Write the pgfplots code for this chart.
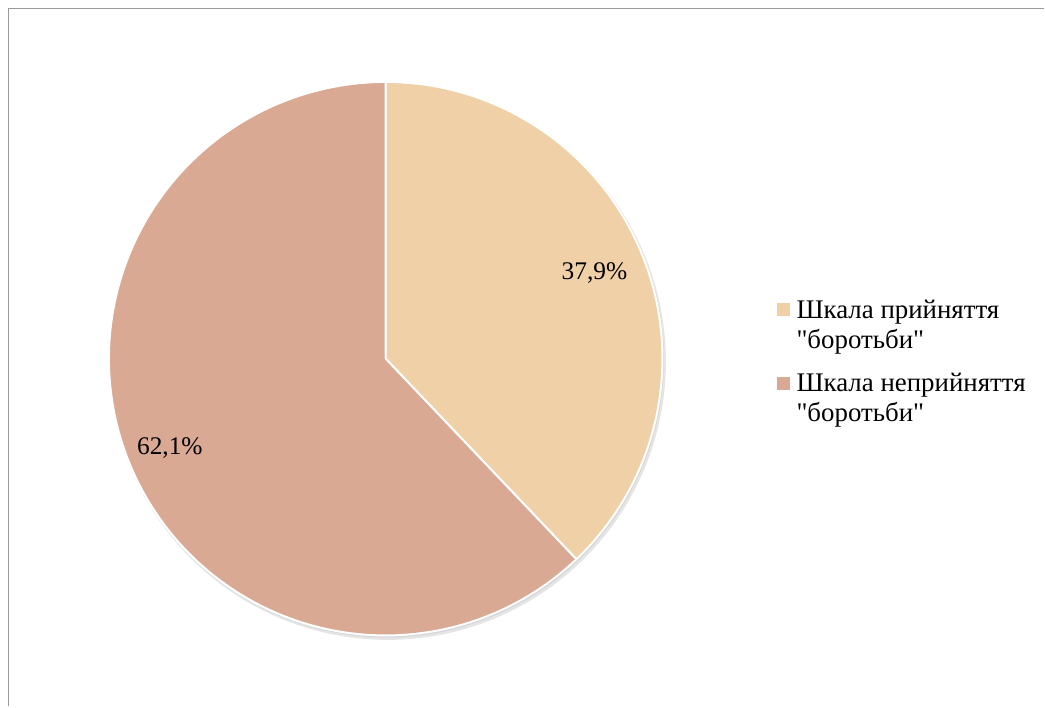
\documentclass[border=0pt]{standalone}
\usepackage{fontspec}
\setmainfont{Liberation Serif}[Ligatures=TeXOff]
\usepackage{pgfplots}
\pgfplotsset{compat=1.18}
\definecolor{sliceA}{HTML}{F0D0A6}
\definecolor{sliceB}{HTML}{D9A993}
\definecolor{framecol}{HTML}{9A9A9A}
\newcommand{\legtwo}[2]{\begin{tabular}[t]{@{}l@{}}#1\\#2\end{tabular}}
\begin{document}
\begin{tikzpicture}
\def\cx{386}\def\cy{348}\def\r{277}
\def\va{37.9}\def\vb{62.1}
\pgfmathsetmacro{\aend}{90-3.6*\va}
\pgfmathsetmacro{\bend}{\aend-3.6*\vb}
\begin{axis}[x=1bp,y=1bp,xmin=0,xmax=1045,ymin=0,ymax=707,scale only axis,
  axis lines=none, clip=false,
  legend style={at={(axis cs:777,409.5)}, anchor=north west, draw=none, fill=none,
    font=\fontsize{27}{30}\selectfont, cells={anchor=base west},
    nodes={inner sep=0pt}, column sep=7bp, row sep=51bp, inner sep=0pt},
  legend image code/.code={\fill[#1,draw=none] (0bp,2bp) rectangle (13bp,15bp);},
]
\path (axis cs:0,0) rectangle (axis cs:1045,707);
\draw[framecol, line width=1.8bp] (axis cs:8.5,0) -- (axis cs:8.5,698.5) -- (axis cs:1045,698.5);
% soft shadow
\addplot[draw=none, fill=black, fill opacity=0.10, domain=0:360, samples=180, forget plot]
  ({\cx+2+(\r+1.5)*cos(x)},{\cy-3+(\r+1.5)*sin(x)});
\addplot[draw=none, fill=black, fill opacity=0.08, domain=0:360, samples=180, forget plot]
  ({\cx+1+(\r+0.5)*cos(x)},{\cy-1.5+(\r+0.5)*sin(x)});
% slices
\addplot[fill=sliceA, draw=white, line width=2bp, line join=round, domain=\aend:90, samples=120]
  ({\cx+\r*cos(x)},{\cy+\r*sin(x)}) -- (axis cs:\cx,\cy) -- cycle;
\addlegendentry{\legtwo{Шкала прийняття}{"боротьби"}}
\addplot[fill=sliceB, draw=white, line width=2bp, line join=round, domain=\bend:\aend, samples=200]
  ({\cx+\r*cos(x)},{\cy+\r*sin(x)}) -- (axis cs:\cx,\cy) -- cycle;
\addlegendentry{\legtwo{Шкала неприйняття}{"боротьби"}}
\node[font=\fontsize{25.5}{30}\selectfont, inner sep=0pt] at (axis cs:595,434) {37,9\%};
\node[font=\fontsize{25.5}{30}\selectfont, inner sep=0pt] at (axis cs:170,259) {62,1\%};
\end{axis}
\end{tikzpicture}
\end{document}
